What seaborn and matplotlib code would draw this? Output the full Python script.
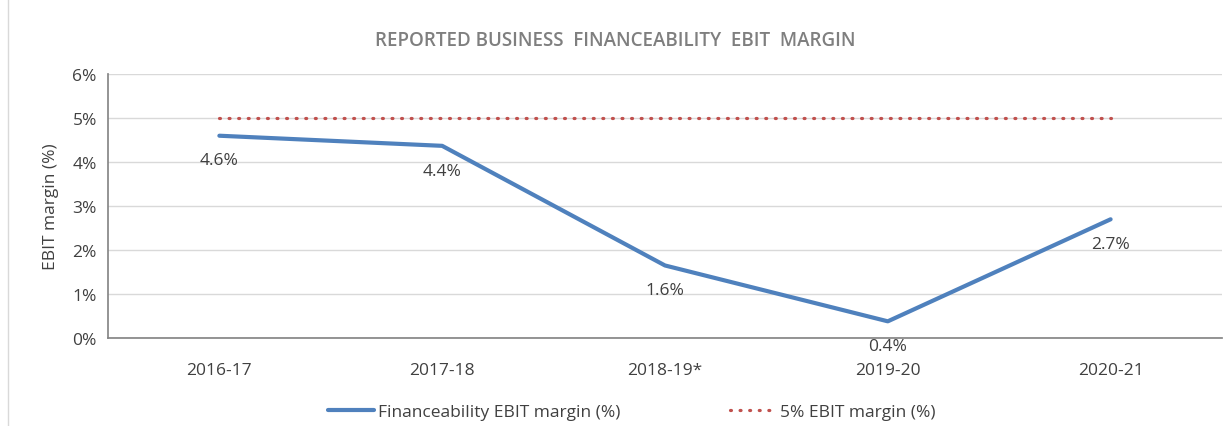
import matplotlib
matplotlib.use('Agg')
import matplotlib.pyplot as plt
import matplotlib.patches as mpatches
from matplotlib.ticker import FuncFormatter, FixedLocator
import seaborn as sns
import pandas as pd

years = ["2016-17", "2017-18", "2018-19*", "2019-20", "2020-21"]
ebit_margin = [4.60, 4.37, 1.65, 0.38, 2.70]
target_margin = [5, 5, 5, 5, 5]
point_labels = ["4.6%", "4.4%", "1.6%", "0.4%", "2.7%"]

sns.set_theme(style="white")
plt.rcParams['font.family'] = ['Open Sans', 'DejaVu Sans']

df = pd.DataFrame({"year": years, "ebit": ebit_margin, "target": target_margin})
df["x"] = range(len(df))

fig = plt.figure(figsize=(12.31, 4.27), dpi=100)
ax = fig.add_axes([0.0877, 0.206, 0.905, 0.618])

sns.lineplot(data=df, x="x", y="ebit", ax=ax, color="#4f81bd", linewidth=3,
             label="Financeability EBIT margin (%)")
sns.lineplot(data=df, x="x", y="target", ax=ax, color="#c0504d", linewidth=2.3,
             linestyle=(0, (0.3, 2.7)), dash_capstyle="round",
             label="5% EBIT margin (%)")

for i, (v, t) in enumerate(zip(ebit_margin, point_labels)):
    ax.text(i, v - 0.38, t, ha="center", va="top", fontsize=12.5, color="#404040")

ax.set_xlim(-0.5, len(years) - 0.5)
ax.set_ylim(0, 6)
ax.set_yticks(range(0, 7))
ax.yaxis.set_major_formatter(FuncFormatter(lambda v, p: f"{v:.0f}%"))
ax.set_xticks(range(len(years)))
ax.set_xticklabels(years)
ax.xaxis.set_minor_locator(FixedLocator([i + 0.5 for i in range(-1, len(years))]))
ax.tick_params(axis="x", which="major", length=0, pad=17, labelsize=12.5, labelcolor="#404040")
ax.tick_params(axis="x", which="minor", length=5, color="#868686", width=1, direction="out")
ax.tick_params(axis="y", length=0, labelsize=12.5, labelcolor="#404040", pad=8)
ax.grid(axis="y", color="#d9d9d9", linewidth=1)
for s in ["top", "right"]:
    ax.spines[s].set_visible(False)
ax.spines["left"].set_color("#868686")
ax.spines["bottom"].set_color("#868686")

ax.set_xlabel("")
ax.set_ylabel("EBIT margin (%)", fontsize=12.5, color="#404040", labelpad=10)

ax.legend(loc="upper center", bbox_to_anchor=(0.47, -0.19), ncol=2, frameon=False,
          fontsize=12.5, handlelength=2.7, columnspacing=6.3, handletextpad=0.2,
          labelcolor="#404040")

fig.text(0.5, 0.905, "REPORTED BUSINESS  FINANCEABILITY  EBIT  MARGIN", ha="center", va="center",
         fontsize=13.5, fontweight="semibold", color="#7f7f7f")
fig.patches.append(mpatches.Rectangle((0.0065, -0.01), 1.0, 1.02, transform=fig.transFigure,
                                      fill=False, edgecolor="#d9d9d9", linewidth=1))

plt.savefig("out.png", dpi=100)
plt.close()
